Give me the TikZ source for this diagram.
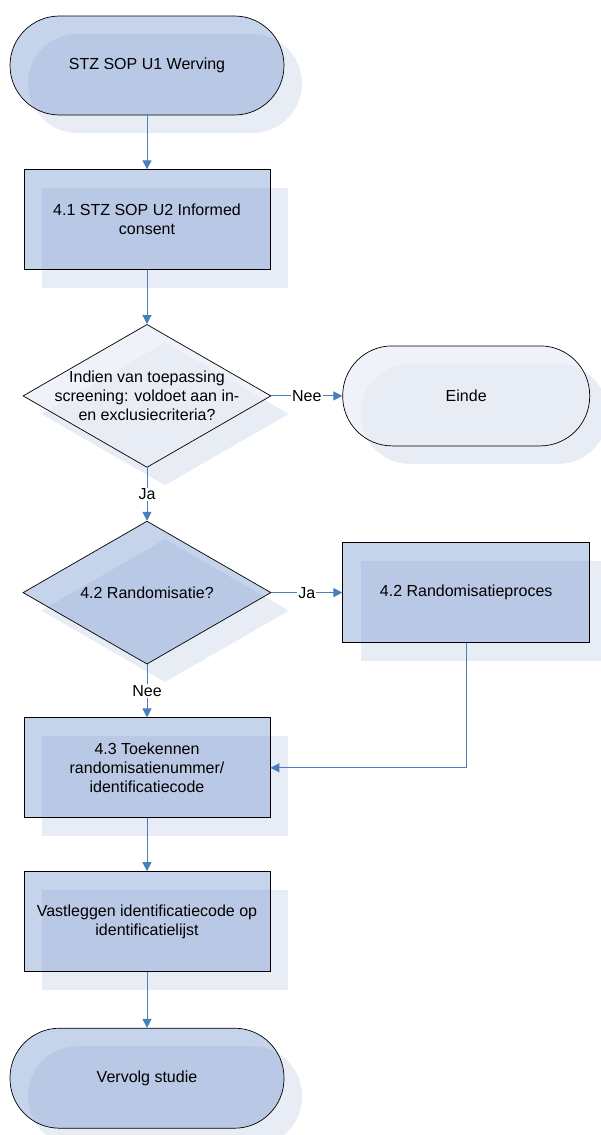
\documentclass[tikz,border=0pt]{standalone}
\usepackage{fontspec}
\setmainfont{Liberation Sans}
\usepackage{xcolor}
\definecolor{cLine}{HTML}{4A7EBB}
\definecolor{cFill}{HTML}{809FD3}
\definecolor{cLight}{HTML}{E9EDF6}
\definecolor{cShadow}{HTML}{E8EDF5}
\usetikzlibrary{positioning,arrows.meta,shapes.geometric,shadows}
\tikzset{
  node-base/.style={draw=black,line width=0.7pt,align=center,inner sep=0pt,
    text opacity=1,
    drop shadow={shadow xshift=18pt,shadow yshift=-18pt,fill=cShadow,opacity=1}},
  node-dark/.style={node-base,fill=cFill,fill opacity=0.45},
  node-pale/.style={node-base,fill=cLight,fill opacity=0.74},
  node-box/.style={rectangle,minimum width=246pt,minimum height=100pt},
  node-term/.style={rectangle,rounded corners=49.5pt,minimum width=274pt,
    minimum height=99pt},
  node-dec/.style={diamond,minimum width=248pt,minimum height=143pt},
  arrow/.style={-{Triangle[length=9pt,width=9pt]},line width=1pt,draw=cLine},
  edge-lbl/.style={fill=white,inner sep=1pt,text=black},
}

\begin{document}
\begin{tikzpicture}[node distance=54pt and 71pt,font=\fontsize{16}{19}\selectfont]
  \useasboundingbox (0,0) rectangle (600pt,-1135pt);
  \node[node-term,node-dark] (werv) at (147pt,-65.5pt) {STZ SOP U1 Werving};
  \node[node-box,node-dark,below=of werv] (cons) {4.1 STZ SOP U2 Informed\\consent};
  \node[node-dec,node-pale,below=of cons,
    label={[align=center]center:{Indien van toepassing\\screening: voldoet aan in-\\en exclusiecriteria?}}] (scr) {};
  \node[node-term,node-pale,right=of scr,minimum width=247pt,minimum height=100pt] (einde) {Einde};
  \node[node-dec,node-dark,below=53pt of scr,
    label={center:{4.2 Randomisatie?}}] (rand) {};
  \node[node-box,node-dark,right=of rand,minimum width=247pt] (rproc) {4.2 Randomisatieproces};
  \node[node-box,node-dark,below=53pt of rand] (toek) {4.3 Toekennen\\randomisatienummer/\\identificatiecode};
  \node[node-box,node-dark,below=53pt of toek] (vast) {Vastleggen identificatiecode op\\identificatielijst};
  \node[node-term,node-dark,below=56pt of vast,minimum height=100pt] (verv) {Vervolg studie};
  \draw[arrow] (werv) -- (cons);
  \draw[arrow] (cons) -- (scr);
  \draw[arrow] (scr) -- node[edge-lbl] {Nee} (einde);
  \draw[arrow] (scr) -- node[edge-lbl] {Ja} (rand);
  \draw[arrow] (rand) -- node[edge-lbl] {Ja} (rproc);
  \draw[arrow] (rand) -- node[edge-lbl] {Nee} (toek);
  \draw[arrow] (rproc.south) |- (toek.east);
  \draw[arrow] (toek) -- (vast);
  \draw[arrow] (vast) -- (verv);
\end{tikzpicture}
\end{document}
